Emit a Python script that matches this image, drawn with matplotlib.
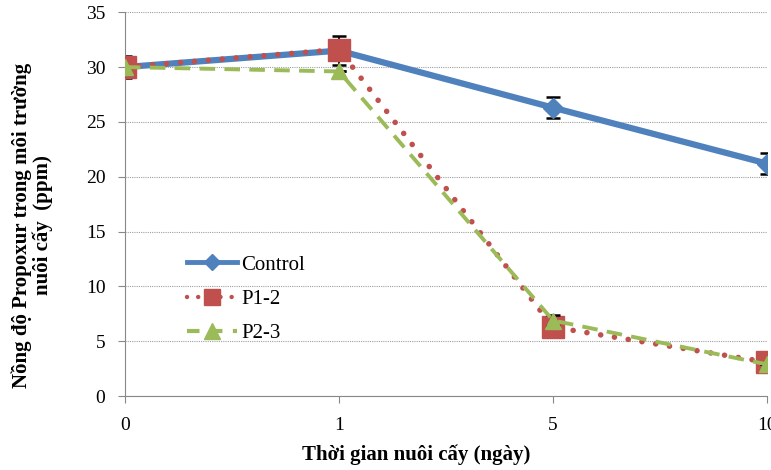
import numpy as np
import matplotlib.pyplot as plt
from matplotlib.lines import Line2D

# data
days = ["0", "1", "5", "10"]
control = [30.0, 31.5, 26.3, 21.2]
control_err = [1.0, 1.3, 0.95, 0.95]
p12 = [30.0, 31.6, 6.3, 3.1]
p23 = [30.0, 29.6, 6.9, 2.9]
p23_err = [0.0, 0.0, 0.5, 0.0]

BLUE = "#4F81BD"
RED = "#C0504D"
GREEN = "#9BBB59"
SERIF = "Liberation Serif"

DOTS = (0, (0.01, 2.5))
DASH = (0, (4, 2.4))

x = np.arange(len(days))

fig = plt.figure(figsize=(7.71, 4.70), dpi=100)
ax = fig.add_axes([0.162, 0.157, 0.833, 0.817])

# Control
ax.errorbar(x, control, yerr=control_err, fmt="none", ecolor="black",
            elinewidth=1.3, capsize=5, capthick=1.8, zorder=2)
ax.plot(x, control, color=BLUE, lw=4.5, marker="D", ms=10, zorder=3)

# P1-2
ax.plot(x, p12, color=RED, lw=4, linestyle=DOTS, dash_capstyle="round",
        zorder=4)
ax.plot(x, p12, color=RED, lw=0, marker="s", ms=16, zorder=5)

# P2-3
ax.errorbar(x, p23, yerr=p23_err, fmt="none", ecolor="black",
            elinewidth=1.2, capsize=5, capthick=1.8, zorder=5.5)
ax.plot(x, p23, color=GREEN, lw=2.8, linestyle=DASH, zorder=6)
ax.plot(x, p23, color=GREEN, lw=0, marker="^", ms=12, zorder=7)

ax.set_xlim(0, 3)
ax.set_ylim(0, 35)
ax.set_yticks(range(0, 36, 5))
ax.set_xticks(x)
ax.set_xticklabels(days)
ax.yaxis.grid(True, color="#a0a0a0", linestyle=(0, (1, 1)), lw=0.8)
ax.set_axisbelow(True)
for s in ("top", "right"):
    ax.spines[s].set_visible(False)
for s in ("left", "bottom"):
    ax.spines[s].set_color("#888888")
ax.tick_params(axis="both", colors="#888888", labelcolor="black",
               labelsize=14, length=5, direction="out")
ax.tick_params(axis="x", pad=10)
ax.tick_params(axis="y", pad=9)
for lab in ax.get_xticklabels() + ax.get_yticklabels():
    lab.set_family(SERIF)

fig.text(416 / 771, 1 - 455 / 470, "Thời gian nuôi cấy (ngày)",
         family=SERIF, fontsize=15, fontweight="bold",
         ha="center", va="center")
fig.text(32 / 771, 1 - 225 / 470,
         "Nồng độ Propoxur trong môi trường\nnuôi cấy  (ppm)",
         family=SERIF, fontsize=15, fontweight="bold", rotation=90,
         ha="center", va="center", multialignment="center",
         linespacing=1.05)

handles = [
    Line2D([], [], color=BLUE, lw=3.5, marker="D", ms=8),
    Line2D([], [], color=RED, lw=3.2, linestyle=DOTS,
           dash_capstyle="round", marker="s", ms=12),
    Line2D([], [], color=GREEN, lw=3, linestyle=(0, (3, 2.5)),
           marker="^", ms=11),
]
ax.legend(handles, ["Control", "P1-2", "P2-3"], loc="center left",
          bbox_to_anchor=(187 / 771, 1 - 299 / 470),
          bbox_transform=fig.transFigure, borderpad=0, borderaxespad=0,
          frameon=False, prop={"family": SERIF, "size": 15},
          handlelength=2.4, labelspacing=0.7, handletextpad=0.2)

fig.savefig("out.png", dpi=100)
